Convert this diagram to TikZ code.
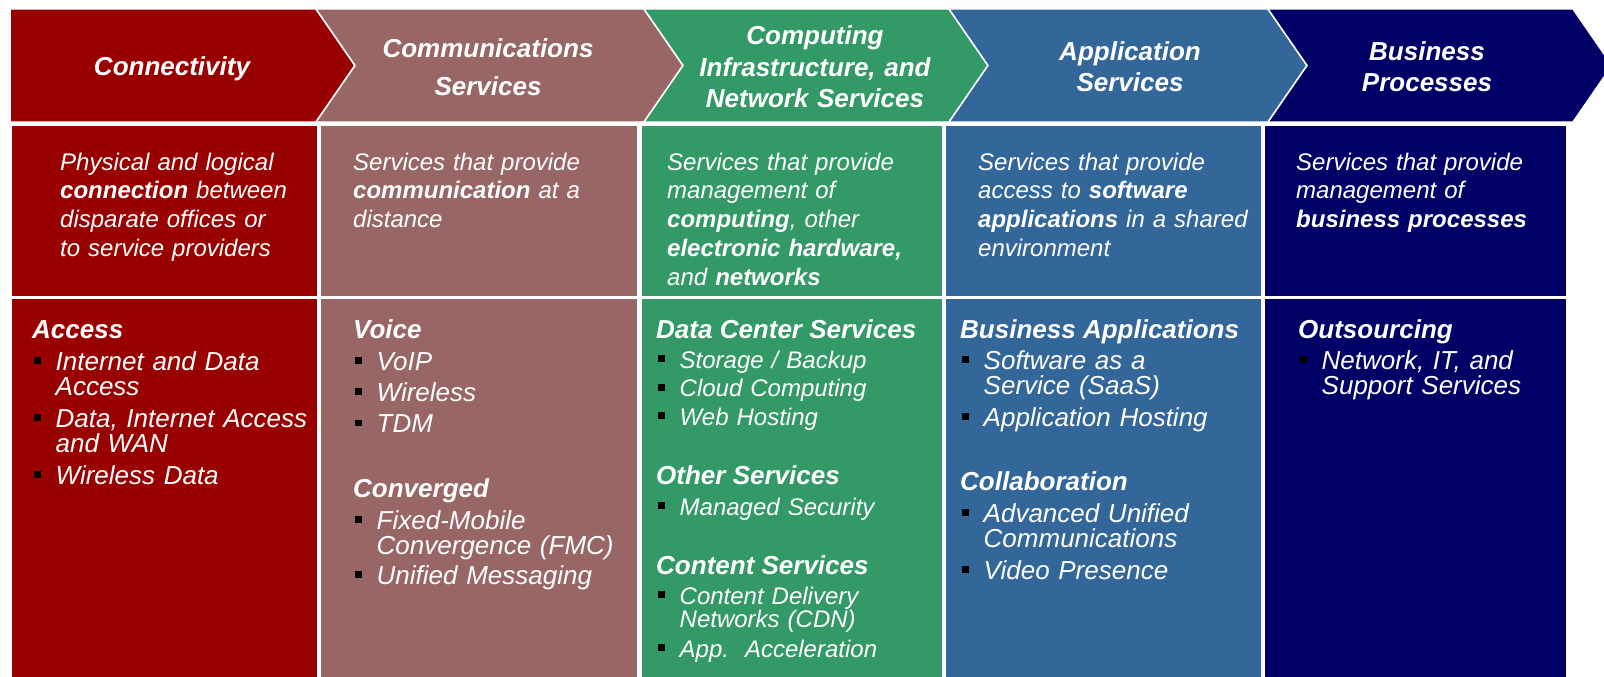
\documentclass[tikz,border=0pt]{standalone}
\usepackage{fontspec}
\setmainfont{Liberation Sans}
\usetikzlibrary{positioning}

\definecolor{connred}{HTML}{990000}
\definecolor{commbrown}{HTML}{996666}
\definecolor{compgreen}{HTML}{339966}
\definecolor{appblue}{HTML}{336699}
\definecolor{busnavy}{HTML}{000066}

% square bullet and the indent of a wrapped line
\newcommand{\bul}{\makebox[23.5pt][l]{\hspace{2pt}\color{black}\rule[.25em]{6.8pt}{6.8pt}}}
\newcommand{\ind}{\hspace*{23.5pt}}

\begin{document}
\begin{tikzpicture}[x=1pt,y=-1pt,
	hdr/.style={anchor=base, inner sep=0, text=white, text width=330pt, align=center,
		font=\fontsize{26}{31.5}\selectfont\bfseries\itshape},
	desc/.style={anchor=base west, inner sep=0, text=white, text width=290pt, align=left,
		font=\fontsize{24}{28.8}\selectfont\itshape},
	sect/.style={anchor=base west, inner sep=0, text=white,
		font=\fontsize{26}{30}\selectfont\bfseries\itshape},
	itm/.style={anchor=base west, inner sep=0, text=white, text width=300pt, align=left,
		font=\fontsize{26}{25.6}\selectfont\itshape},
	smallitm/.style={itm, font=\fontsize{24}{23.2}\selectfont\itshape}]
	\useasboundingbox (0,0) rectangle (1604,677);
	\clip (0,0) rectangle (1604,677);
	% chevron band
	\filldraw[fill=connred, draw=white, line width=1.5pt] (10,9) -- (316,9) -- (355,65.5) -- (316,122) -- (10,122) -- cycle;
	\foreach \l/\r/\c in {316/644/commbrown, 644/949/compgreen, 949/1268/appblue, 1268/1573/busnavy}
		\filldraw[fill=\c, draw=white, line width=1.5pt] (\l,9) -- (\r,9) -- (\r+39,65.5) -- (\r,122) -- (\l,122) -- (\l+39,65.5) -- cycle;
	% columns
	\foreach \l/\r/\c in {12/317/connred, 321/637/commbrown, 642/942/compgreen, 946/1261/appblue, 1265/1566/busnavy}{
		\fill[\c] (\l,126) rectangle (\r,296);
		\fill[\c] (\l,299) rectangle (\r,680);
	}
	\node[hdr] (connHdr) at (172,75) {Connectivity};
	\node[hdr] (commHdr) at (488,58) {Communications\\[6.5pt]Services};
	\node[hdr] (compHdr) at (815,45) {Computing\\Infrastructure, and\\Network Services};
	\node[hdr] (appHdr) at (1130,60) {Application\\Services};
	\node[hdr] (busHdr) at (1427,60) {Business\\Processes};

	\node[desc] (connDesc) at (60,170) {Physical and logical\\\textbf{connection} between\\disparate offices or\\to service providers};
	\node[desc] (commDesc) at (353,170) {Services that provide\\\textbf{communication} at a\\distance};
	\node[desc] (compDesc) at (667,170) {Services that provide\\management of\\\textbf{computing}, other\\\textbf{electronic hardware,}\\and \textbf{networks}};
	\node[desc] (appDesc) at (978,170) {Services that provide\\access to \textbf{software}\\\textbf{applications} in a shared\\environment};
	\node[desc] (busDesc) at (1296,170) {Services that provide\\management of\\\textbf{business processes}};

	% connectivity
	\node[sect] (accessHd) at (32,338) {Access};
	\node[itm] (accessLst) at (32,370) {\bul Internet and Data\\\ind Access\\[6pt]\bul Data, Internet Access\\\ind and WAN\\[6pt]\bul Wireless Data};
	% communications
	\node[sect] (voiceHd) at (353,338) {Voice};
	\node[itm] (voiceLst) at (353,370) {\bul VoIP\\[5.8pt]\bul Wireless\\[5.8pt]\bul TDM};
	\node[sect] (convHd) at (353,497) {Converged};
	\node[itm] (convLst) at (353,529) {\bul Fixed-Mobile\\\ind Convergence (FMC)\\[4.5pt]\bul Unified Messaging};
	% computing
	\node[sect] (dcHd) at (656,338) {Data Center Services};
	\node[smallitm] (dcLst) at (656,368) {\bul Storage / Backup\\[5.3pt]\bul Cloud Computing\\[5.3pt]\bul Web Hosting};
	\node[sect] (otherHd) at (656,484) {Other Services};
	\node[smallitm] (otherLst) at (656,515) {\bul Managed Security};
	\node[sect] (contHd) at (656,574) {Content Services};
	\node[smallitm] (contLst) at (656,604) {\bul Content Delivery\\\ind Networks (CDN)\\[6.8pt]\bul App.\ \ Acceleration};
	% applications
	\node[sect] (bizHd) at (960,338) {Business Applications};
	\node[itm] (bizLst) at (960,369) {\bul Software as a\\\ind Service (SaaS)\\[6.4pt]\bul Application Hosting};
	\node[sect] (collabHd) at (960,490) {Collaboration};
	\node[itm] (collabLst) at (960,522) {\bul Advanced Unified\\\ind Communications\\[6.4pt]\bul Video Presence};
	% business
	\node[sect] (outHd) at (1298,338) {Outsourcing};
	\node[itm] (outLst) at (1298,369) {\bul Network, IT, and\\\ind Support Services};
\end{tikzpicture}
\end{document}
